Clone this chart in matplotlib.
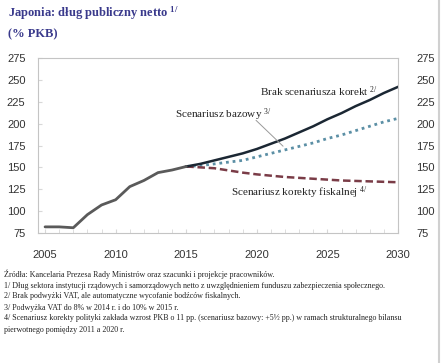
#!/usr/bin/env python3
"""Japonia: dług publiczny netto (% PKB) - history and three scenarios."""

import numpy as np
import matplotlib
matplotlib.use('Agg')
import matplotlib.pyplot as plt
import matplotlib.transforms as mtransforms

W, H = 441, 363

# historical data
hist_years = list(range(2005, 2016))
hist_vals = [82, 82, 81, 96, 107, 113, 128, 135, 144, 147, 151]

# projections 2015-2030
proj_years = list(range(2015, 2031))
brak_vals = [151, 154, 158, 162, 166, 171, 177, 183, 190, 197, 205, 212, 220, 227, 235, 242]
bazowy_vals = [151, 152, 154, 156, 158, 162, 166, 170, 174, 178, 183, 187, 192, 197, 202, 206]
korekta_vals = [151, 150, 149, 146.5, 144, 142, 140.5, 139, 138, 137, 136, 135, 134.5, 134, 133.5, 133]

yticks = [75, 100, 125, 150, 175, 200, 225, 250, 275]
xticks = [2005, 2010, 2015, 2020, 2025, 2030]

footnotes = [
    'Źródła: Kancelaria Prezesa Rady Ministrów oraz szacunki i projekcje pracowników.',
    '1/ Dług sektora instytucji rządowych i samorządowych netto z uwzględnieniem funduszu zabezpieczenia społecznego.',
    '2/ Brak podwyżki VAT, ale automatyczne wycofanie bodźców fiskalnych.',
    '3/ Podwyżka VAT do 8% w 2014 r. i do 10% w 2015 r.',
    '4/ Scenariusz korekty polityki zakłada wzrost PKB o 11 pp. (scenariusz bazowy: +5½ pp.) w ramach strukturalnego bilansu',
    'pierwotnego pomiędzy 2011 a 2020 r.',
]

SERIF = ['Liberation Serif', 'DejaVu Serif']
TICKFONT = ['Liberation Sans Narrow', 'Liberation Sans', 'DejaVu Sans']

fig = plt.figure(figsize=(W / 100, H / 100), dpi=100)
ax = fig.add_axes([38 / W, 1 - 233 / H, (398 - 38) / W, (233 - 58) / H])

ax.plot(hist_years, hist_vals, color='#5a5a5a', lw=2.0, solid_capstyle='round', zorder=3)
ax.plot(proj_years, bazowy_vals, color='#5b8fa5', lw=2.0, dashes=(1.0, 1.4), zorder=2)
ax.plot(proj_years, korekta_vals, color='#7a3c47', lw=1.8, dashes=(3.0, 1.5), zorder=2)
ax.plot(proj_years, brak_vals, color='#1b2733', lw=1.8, zorder=2)

ax.set_xlim(2004.5, 2030.0)
ax.set_ylim(75, 275)
ax.set_yticks(yticks)
ax.set_xticks(xticks)
ax.set_xticks(range(2005, 2031), minor=True)

for s in ax.spines.values():
    s.set_color('#c4c4c4')
    s.set_linewidth(0.8)

ax.tick_params(axis='both', which='both', direction='in', color='#d8d8d8',
               labelcolor='#333333', labelsize=8)
ax.tick_params(axis='x', which='major', length=3, pad=12)
ax.tick_params(axis='x', which='minor', length=3)
ax.tick_params(axis='y', length=3, pad=9, left=True, right=False,
               labelleft=True, labelright=True)
for lbl in ax.get_xticklabels() + ax.get_yticklabels():
    lbl.set_family(TICKFONT)
# right labels a bit further out
offset = mtransforms.ScaledTranslation(6 / 100, 0, fig.dpi_scale_trans)
for t in ax.yaxis.get_major_ticks():
    t.label2.set_transform(t.label2.get_transform() + offset)

# scenario labels
ax.text(2020.2, 236, 'Brak scenariusza korekt $\\mathregular{^{2/}}$',
        family=SERIF, fontsize=8, color='#222222', va='center')
ax.text(2014.2, 210, 'Scenariusz bazowy $\\mathregular{^{3/}}$',
        family=SERIF, fontsize=8, color='#222222', va='center')
ax.annotate('', xy=(2022.0, 172), xytext=(2019.8, 206),
            arrowprops=dict(arrowstyle='-', color='#999999', lw=0.7))
ax.text(2018.2, 121, 'Scenariusz korekty fiskalnej $\\mathregular{^{4/}}$',
        family=SERIF, fontsize=8, color='#222222', va='center')

# title
fig.text(8 / W, 1 - 13 / H, 'Japonia: dług publiczny netto $\\mathregular{^{1/}}$',
         family=SERIF, fontsize=9, fontweight='bold', color='#3a3a8c', va='center')
fig.text(8 / W, 1 - 34 / H, '(% PKB)',
         family=SERIF, fontsize=9, fontweight='bold', color='#3a3a8c', va='center')

# footnotes
y0 = 274.5
for i, line in enumerate(footnotes):
    fig.text(4 / W, 1 - (y0 + i * 11.0) / H, line, family=SERIF, fontsize=5.8,
             color='#222222', va='center')

# thin grey frame line on the right edge
fig.add_artist(plt.Line2D([438.5 / W, 438.5 / W], [0, 1], color='#d0d0d0', lw=1.5,
                          transform=fig.transFigure))

fig.savefig('out.png', dpi=100)
